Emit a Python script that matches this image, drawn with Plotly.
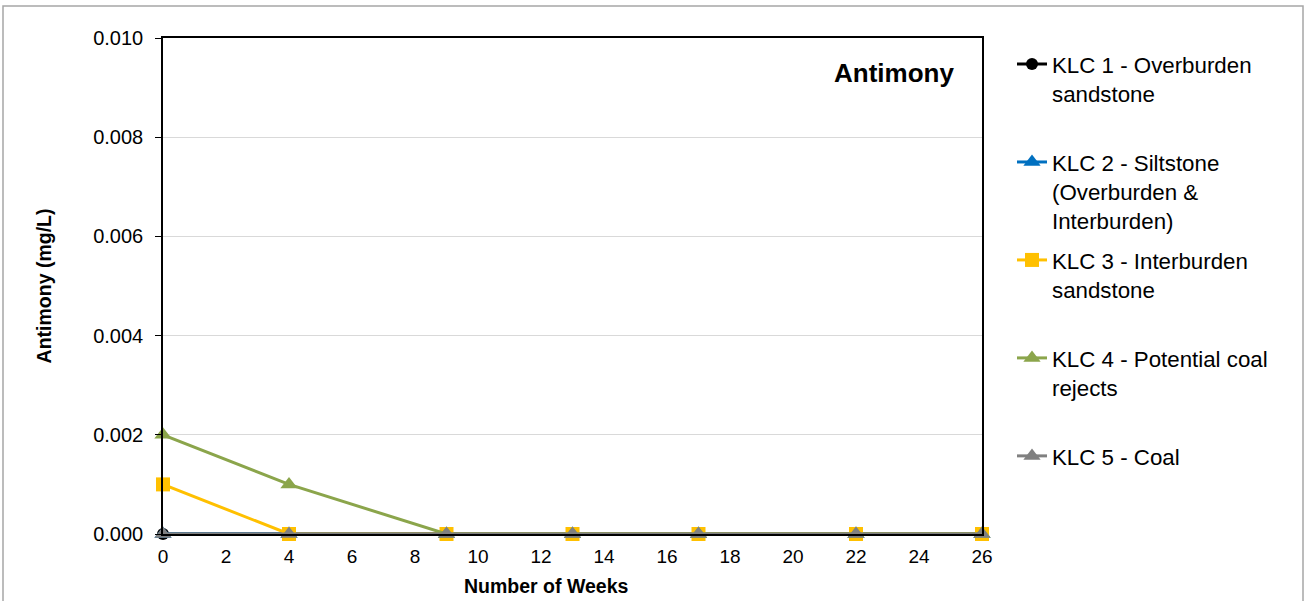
import plotly.graph_objects as go

weeks = [0, 4, 9, 13, 17, 22, 26]
series_names = [
    "KLC 1 - Overburden<br>sandstone",
    "KLC 2 - Siltstone<br>(Overburden &<br>Interburden)",
    "KLC 3 - Interburden<br>sandstone",
    "KLC 4 - Potential coal<br>rejects",
    "KLC 5 - Coal",
]
klc1 = [0, 0, 0, 0, 0, 0, 0]
klc2 = [0, 0, 0, 0, 0, 0, 0]
klc3 = [0.001, 0, 0, 0, 0, 0, 0]
klc4 = [0.002, 0.001, 0, 0, 0, 0, 0]
klc5 = [0, 0, 0, 0, 0, 0, 0]
values = [klc1, klc2, klc3, klc4, klc5]
colors = ["#000000", "#0070C0", "#FFC000", "#8BA54B", "#808080"]
symbols = ["circle", "triangle-up", "square", "triangle-up", "triangle-up"]
sizes = [12, 15, 14, 15, 15]
y_ticks = [0, 0.002, 0.004, 0.006, 0.008, 0.010]
x_ticks = list(range(0, 27, 2))

FONT = "Arial, Liberation Sans, sans-serif"

fig = go.Figure()
n = len(series_names)
for i, (name, vals) in enumerate(zip(series_names, values)):
    nlines = name.count("<br>") + 1
    padded = name if i == n - 1 else name + "<br>&nbsp;" * (3 - nlines)
    fig.add_trace(go.Scatter(
        x=weeks, y=vals, name=padded, mode="lines+markers",
        line=dict(color=colors[i], width=3),
        marker=dict(symbol=symbols[i], size=sizes[i], color=colors[i]),
        legendgroup=f"g{i}", cliponaxis=False,
    ))

L, R, T, B = 163, 324, 38, 67
W, H = 1306, 601
pw, ph = W - L - R, H - T - B

def px(x):
    return (x - L) / pw

def py(y):
    return (H - B - y) / ph

fig.update_layout(
    width=W, height=H,
    margin=dict(l=L, r=R, t=T, b=B),
    paper_bgcolor="white", plot_bgcolor="white",
    font=dict(family=FONT, size=20, color="#000000"),
    showlegend=True,
    legend=dict(
        x=px(1012), xanchor="left", y=py(43), yanchor="top",
        font=dict(family=FONT, size=22.3, color="#000000"),
        valign="top", tracegroupgap=8, bgcolor="rgba(0,0,0,0)",
        itemwidth=30, maxheight=900,
    ),
    xaxis=dict(
        range=[0, 26], tickmode="array", tickvals=x_ticks,
        showgrid=False, zeroline=False,
        showline=True, linecolor="#000000", linewidth=1.5, mirror=True,
        ticks="", ticklabelstandoff=4,
        tickfont=dict(size=19),
    ),
    yaxis=dict(
        range=[0, 0.010], tickmode="array", tickvals=y_ticks,
        tickformat=".3f",
        showgrid=True, gridcolor="#D9D9D9", gridwidth=1, zeroline=False,
        showline=True, linecolor="#000000", linewidth=1.5, mirror=True,
        ticks="outside", ticklen=6, tickcolor="#000000", ticklabelstandoff=8,
        tickfont=dict(size=20),
        title=dict(text="<b>Antimony (mg/L)</b>", font=dict(size=19.5), standoff=36),
    ),
    annotations=[
        dict(
            text="<b>Antimony</b>", xref="paper", yref="paper",
            x=px(956), xanchor="right", y=py(73), yanchor="middle",
            showarrow=False, font=dict(family=FONT, size=26, color="#000000"),
        ),
        dict(
            text="<b>Number of Weeks</b>", xref="paper", yref="paper",
            x=px(546), xanchor="center", y=py(586), yanchor="middle",
            showarrow=False, font=dict(family=FONT, size=19.5, color="#000000"),
        ),
    ],
    shapes=[dict(
        type="rect", xref="paper", yref="paper",
        x0=px(3), x1=px(1303), y0=py(6), y1=py(610),
        line=dict(color="#A6A6A6", width=1.5), fillcolor="rgba(0,0,0,0)",
        layer="below",
    )],
)

fig.write_html("out.html", config={"displayModeBar": False},
               post_script="document.body.style.margin='0px';")
